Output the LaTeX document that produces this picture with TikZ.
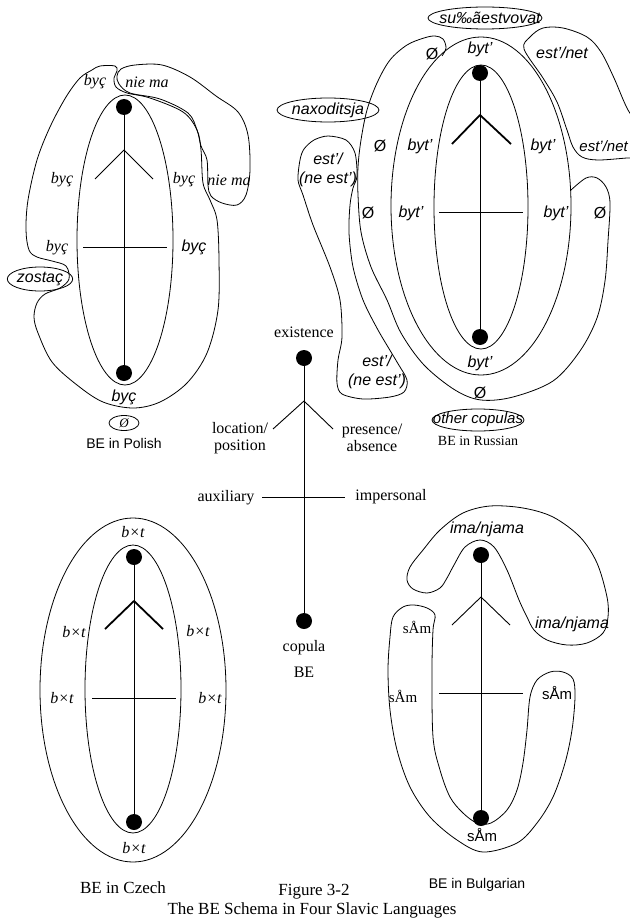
\documentclass[tikz,border=0pt]{standalone}
\usepackage{fontspec}
\setmainfont{Liberation Serif}
\newfontfamily\arial{Liberation Sans}
\usetikzlibrary{shapes.geometric}
\begin{document}
\begin{tikzpicture}[x=1pt,y=-1pt,line join=round,
  blob/.style={draw,line width=0.8pt},
  tlab/.style={font=\fontsize{16}{19}\selectfont\itshape,inner sep=0pt},
  alab/.style={font=\arial\fontsize{16}{19}\selectfont\itshape,inner sep=0pt},
  aup/.style={font=\arial\fontsize{16}{19}\selectfont,inner sep=0pt},
  tup/.style={font=\fontsize{16}{17}\selectfont,inner sep=0pt,align=center},
  title/.style={font=\arial\fontsize{14}{16}\selectfont,inner sep=0pt},
  ttitle/.style={font=\fontsize{14}{16}\selectfont,inner sep=0pt},
  bigtitle/.style={font=\fontsize{17}{18}\selectfont,inner sep=0pt},
  dot/.style={circle,fill=black,minimum size=16pt,inner sep=0pt},
  axis/.style={line width=1pt},
  chev/.style={line width=0.9pt},
  chevb/.style={line width=1.8pt},
  oval/.style={ellipse,draw,line width=0.8pt,inner sep=0pt},
]
\useasboundingbox (0,0) rectangle (629,923);

% ================= Polish =================
\draw[blob] (125,240) ellipse [x radius=48,y radius=145];
\draw[blob] plot[smooth cycle,tension=0.55] coordinates {(100,66) (115,66) (117,71) (114,78) (116,87) (127,93) (150,98) (183,112) (197,130) (201,150) (203,183) (210,200) (217,220) (219,260) (218,310) (207,353) (187,383) (160,402) (133,408) (103,402) (77,385) (52,362) (38,333) (34,317) (37,303) (45,294) (60,288) (69,279) (66,266) (52,261) (37,257) (29,250) (26,230) (28,200) (37,160) (50,127) (66,97) (80,78) (92,70)};
\draw[blob] plot[smooth cycle,tension=0.55] coordinates {(121,69) (135,65) (162,65) (190,77) (216,96) (238,112) (248,135) (250,170) (246,195) (237,205) (222,203) (211,196) (208,185) (207,160) (201,146) (197,130) (188,113) (160,99) (130,93) (119,84) (117,76)};
\node[dot] (pt) at (124,107) {};
\node[dot] (pb) at (124,373) {};
\draw[axis] (pt.center) -- (pb.center);
\coordinate (pa) at (124,150);
\coordinate (pl) at (95,179);
\coordinate (pr) at (153,179);
\draw[chev] (pl) -- (pa) -- (pr);
\coordinate (phl) at (83,247);
\coordinate (phr) at (167,247);
\draw[chev] (phl) -- (phr);
\node[tlab] (p1) at (95,82) {byç};
\node[tlab] (p2) at (147,82) {nie ma};
\node[tlab] (p3) at (62,180) {byç};
\node[tlab] (p4) at (184,180) {byç};
\node[tlab] (p5) at (229,180) {nie ma};
\node[tlab] (p6) at (57,248) {byç};
\node[alab] (p7) at (194,247) {byç};
\node[alab] (p8) at (124,397) {byç};
\node[oval,minimum width=60pt,minimum height=24pt,font=\arial\fontsize{16}{17}\selectfont\itshape] (pz) at (40,279) {zostaç};
\node[oval,minimum width=30pt,minimum height=15pt,font=\fontsize{13}{14}\selectfont\itshape] (p0) at (124,423) {Ø};
\node[title] (ptitle) at (124,443) {BE in Polish};

% ================= Russian =================
\draw[blob] (481,206) ellipse [x radius=90,y radius=169];
\draw[blob] (481,207) ellipse [x radius=47,y radius=142];
\draw[blob] plot[smooth,tension=0.55] coordinates {(442,56) (446,48) (443,39) (435,36) (424,38) (407,45) (390,60) (377,83) (367,110) (361,140) (358,167) (358,195) (361,232) (371,267) (387,300) (401,333) (424,365) (455,390) (481,400) (513,397) (553,381) (580,351) (597,318) (605,281) (608,241) (610,203) (606,187) (597,178) (586,178) (571,190)};
\draw[blob] plot[smooth cycle,tension=0.55] coordinates {(524,49) (530,37) (543,28) (563,28) (587,37) (601,52) (614,78) (628,110) (645,135) (645,157) (627,158) (598,160) (582,157) (573,147) (567,130) (557,102) (543,78)};
\draw[blob] plot[smooth cycle,tension=0.5] coordinates {(300,160) (304,149) (314,140) (328,136) (346,140) (355,153) (357,176) (353,188) (350,205) (349,233) (353,267) (363,300) (378,330) (397,362) (407,380) (404,392) (390,397) (363,399) (342,394) (337,383) (338,360) (342,337) (340,300) (330,267) (313,225) (303,195) (298,180)};
\node[dot] (rt) at (480,73) {};
\node[dot] (rb) at (480,337) {};
\draw[axis] (rt.center) -- (rb.center);
\coordinate (ra) at (480,115);
\coordinate (rl) at (452,144);
\coordinate (rr) at (511,144);
\draw[chevb] (rl) -- (ra) -- (rr);
\coordinate (rhl) at (439,212);
\coordinate (rhr) at (523,212);
\draw[chev] (rhl) -- (rhr);
\draw[blob] (485,18) ellipse [x radius=57,y radius=11];
\node[alab] (rsu) at (490,18) {su‰ãestvovat};
\node[oval,minimum width=88pt,minimum height=24pt,font=\arial\fontsize{16}{17}\selectfont\itshape] (rnax) at (328,110) {naxoditsja};
\draw[blob] (478,420) ellipse [x radius=46,y radius=11];
\node[alab,font=\arial\fontsize{15}{16}\selectfont\itshape] (roth) at (478,420) {other copulas};
\node[ttitle] (rtitle) at (478,441) {BE in Russian};
\node[alab] (r1) at (480,49) {byt’};
\node[aup] (r2) at (432,54) {Ø};
\node[alab] (r3) at (562,53) {est’/net};
\node[aup] (r4) at (380,146) {Ø};
\node[alab] (r5) at (420,146) {byt’};
\node[alab] (r6) at (543,146) {byt’};
\node[alab,anchor=east,font=\arial\fontsize{15}{16}\selectfont\itshape] (r7) at (628,146) {est’/net};
\node[aup] (r8) at (368,213) {Ø};
\node[alab] (r9) at (411,213) {byt’};
\node[alab] (r10) at (556,213) {byt’};
\node[aup] (r11) at (600,213) {Ø};
\node[alab] (r12) at (480,363) {byt’};
\node[aup] (r13) at (480,393) {Ø};
\node[alab,align=center] (r14) at (328,170) {est’/\\(ne est’)};
\node[alab,align=center] (r15) at (377,372) {est’/\\(ne est’)};

% ================= Central schema =================
\node[dot] (ct) at (304,358) {};
\node[dot] (cb) at (304,621) {};
\draw[axis] (ct.center) -- (cb.center);
\coordinate (ca) at (304,401);
\coordinate (cl) at (273,429);
\coordinate (cr) at (333,429);
\draw[chev] (cl) -- (ca) -- (cr);
\coordinate (chl) at (262,497);
\coordinate (chr) at (345,497);
\draw[chev] (chl) -- (chr);
\node[tup] (c1) at (304,332) {existence};
\node[tup] (c2) at (240,438) {location/\\position};
\node[tup] (c3) at (372,438) {presence/\\absence};
\node[tup] (c4) at (226,498) {auxiliary};
\node[tup] (c5) at (391,497) {impersonal};
\node[tup] (c6) at (304,648) {copula};
\node[tup] (c7) at (304,672) {BE};

% ================= Czech =================
\draw[blob] (133,690) ellipse [x radius=93,y radius=172];
\draw[blob] (133,689) ellipse [x radius=48,y radius=144];
\node[dot] (zt) at (134,557) {};
\node[dot] (zb) at (134,822) {};
\draw[axis] (zt.center) -- (zb.center);
\coordinate (za) at (134,601);
\coordinate (zl) at (105,629);
\coordinate (zr) at (163,629);
\draw[chevb] (zl) -- (za) -- (zr);
\coordinate (zhl) at (92,698);
\coordinate (zhr) at (176,698);
\draw[chev] (zhl) -- (zhr);
\node[tlab] (z1) at (133,532) {b×t};
\node[tlab] (z2) at (74,632) {b×t};
\node[tlab] (z3) at (198,631) {b×t};
\node[tlab] (z4) at (62,698) {b×t};
\node[tlab] (z5) at (210,698) {b×t};
\node[tlab] (z6) at (134,848) {b×t};
\node[bigtitle] (ztitle) at (123,888) {BE in Czech};

% ================= Bulgarian =================
\draw[blob] plot[smooth cycle,tension=0.55] coordinates {(465,547) (480,540) (494,547) (507,570) (519,600) (527,617) (534,630) (547,640) (567,645) (587,643) (603,633) (608,617) (607,597) (597,563) (580,537) (553,517) (523,508) (490,506) (463,513) (440,530) (423,550) (410,567) (407,580) (413,589) (427,593) (440,588) (447,578) (454,565)};
\draw[blob] plot[smooth cycle,tension=0.55] coordinates {(393,617) (403,607) (414,605) (427,608) (435,615) (433,630) (432,670) (433,737) (440,770) (450,797) (463,813) (477,823) (491,823) (507,810) (517,790) (523,763) (527,730) (530,697) (537,680) (550,672) (563,672) (573,679) (575,697) (572,730) (565,763) (553,797) (537,823) (517,843) (483,852) (457,840) (430,817) (410,787) (397,750) (390,710) (388,670) (390,637)};
\node[dot] (bt) at (481,555) {};
\node[dot] (bb) at (481,818) {};
\draw[axis] (bt.center) -- (bb.center);
\coordinate (ba) at (481,597);
\coordinate (bl) at (452,625);
\coordinate (br) at (510,625);
\draw[chev] (bl) -- (ba) -- (br);
\coordinate (bhl) at (439,693);
\coordinate (bhr) at (523,693);
\draw[chev] (bhl) -- (bhr);
\node[alab] (b1) at (487,529) {ima/njama};
\node[alab] (b2) at (572,624) {ima/njama};
\node[tup,font=\fontsize{15}{16}\selectfont] (b3) at (417,627) {sÅm};
\node[tup,font=\fontsize{15}{16}\selectfont] (b4) at (403,696) {sÅm};
\node[aup,font=\arial\fontsize{15}{16}\selectfont] (b5) at (557,693) {sÅm};
\node[aup,font=\arial\fontsize{15}{16}\selectfont] (b6) at (482,835) {sÅm};
\node[title] (btitle) at (477,885) {BE in Bulgarian};

% ================= Caption =================
\node[bigtitle] (cap1) at (314,892) {Figure 3-2};
\node[bigtitle] (cap2) at (312,910) {The BE Schema in Four Slavic Languages};
\end{tikzpicture}
\end{document}
